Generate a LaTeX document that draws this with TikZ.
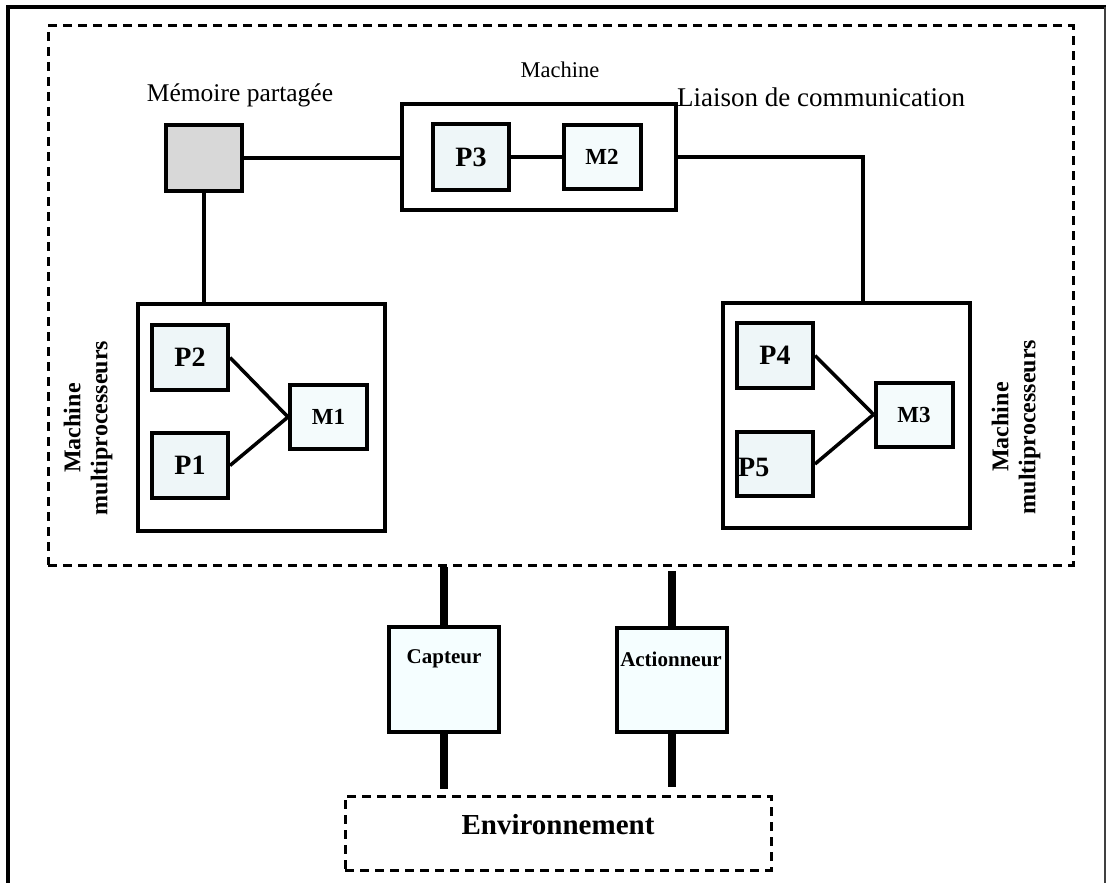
\documentclass[tikz,border=0pt]{standalone}
\usepackage{fontspec}
\setmainfont{Liberation Serif}
\definecolor{procfill}{HTML}{EEF6F8}
\definecolor{memfill}{HTML}{F4FBFC}
\definecolor{iofill}{HTML}{F5FEFF}
\definecolor{sharedfill}{HTML}{D8D8D8}
\tikzset{
  box/.style={draw, line width=4pt, inner sep=0pt},
  proc/.style={box, fill=procfill, minimum width=76pt, minimum height=66pt,
    font=\fontsize{28}{30}\selectfont\bfseries},
  proctext/.style={inner sep=0pt, font=\fontsize{28}{30}\selectfont\bfseries},
  mem/.style={box, fill=memfill, minimum width=77pt, minimum height=64pt,
    font=\fontsize{23}{25}\selectfont\bfseries},
  group/.style={box, fill=white},
  iobox/.style={box, fill=iofill, minimum width=110pt, minimum height=105pt},
  iotext/.style={inner sep=0pt, font=\fontsize{21}{23}\selectfont\bfseries},
  lbl/.style={inner sep=0pt, font=\fontsize{24}{26}\selectfont},
  vlbl/.style={inner sep=0pt, align=center, rotate=90,
    font=\fontsize{24}{27}\selectfont\bfseries},
  link/.style={line width=3.5pt},
  heavy/.style={line width=8.5pt},
  dashbox/.style={draw, dash pattern=on 9pt off 6pt, line width=3pt, inner sep=0pt}
}
\begin{document}
\begin{tikzpicture}[x=1pt, y=-1pt]
\useasboundingbox (0,0) rectangle (1106,883);

% page frame
\draw[line width=4pt] (8,883) -- (8,7) -- (1106,7);
\draw[line width=1.2pt, black!75] (1105,7) -- (1105,883);

% computing system boundary
\node[dashbox, minimum width=1025pt, minimum height=539pt] (sys) at (560.5,295.5) {};

% shared memory and single machine
\node[box, fill=sharedfill, minimum width=76pt, minimum height=66pt] (shm) at (204,158) {};
\node[lbl, font=\fontsize{25.5}{27}\selectfont] (shmlbl) at (240,95) {Mémoire partagée};
\node[group, minimum width=274pt, minimum height=106pt] (mach) at (539,157) {};
\node[lbl, font=\fontsize{22.5}{25}\selectfont] (machlbl) at (560,70) {Machine};
\node[lbl, anchor=west, font=\fontsize{27}{29}\selectfont] (linklbl) at (677,97) {Liaison de communication};
\node[proc] (p3) at (471,157) {P3};
\node[mem] (m2) at (602,157) {M2};

% left multiprocessor machine
\node[group, minimum width=247pt, minimum height=227pt] (lm) at (261.5,417.5) {};
\node[proc, minimum height=65pt] (p2) at (190,357.5) {P2};
\node[proc, minimum height=65pt] (p1) at (190,465.5) {P1};
\node[mem] (m1) at (328.5,417) {M1};
\node[vlbl] (lmlbl) at (88,428) {Machine\\multiprocesseurs};

% right multiprocessor machine
\node[group, minimum width=247pt, minimum height=225pt] (rm) at (846.5,415.5) {};
\node[proc, minimum height=65pt] (p4) at (775,355.5) {P4};
\node[proc, minimum height=64pt] (p5) at (775,464) {};
\node[proctext, anchor=west] (p5lbl) at (738,467) {P5};
\node[mem] (m3) at (914,414.5) {M3};
\node[vlbl] (rmlbl) at (1016,427) {Machine\\multiprocesseurs};
\coordinate (rmtop) at (863,303);

% links
\draw[link] (shm.east) -- (shm.east -| mach.west);
\draw[link] (shm.south) -- (shm.south |- lm.north);
\draw[link] (p3) -- (m2);
\draw[link] (mach.east) -| (rmtop);
\draw[link] (p2.east) -- (m1.west);
\draw[link] (p1.east) -- (m1.west);
\draw[link] (p4.east) -- (m3.west);
\draw[link] (p5.east) -- (m3.west);

% sensor, actuator and environment
\node[iobox] (cap) at (444,679.5) {};
\node[iotext] (caplbl) at (444,659) {Capteur};
\node[iobox, minimum height=104pt] (act) at (672,680) {};
\node[iotext] (actlbl) at (671,659) {Actionneur};
\node[dashbox, minimum width=426pt, minimum height=74pt] (env) at (558,833) {};
\node[inner sep=0pt, font=\fontsize{29}{31}\selectfont\bfseries] (envlbl) at (558,825) {Environnement};

\draw[heavy] (cap.north) -- (cap.north |- sys.south);
\draw[heavy] (cap.south) -- ([yshift=6pt]env.north -| cap.south);
\draw[heavy] (act.north) -- ([yshift=-4pt]act.north |- sys.south);
\draw[heavy] (act.south) -- ([yshift=8pt]env.north -| act.south);
\end{tikzpicture}
\end{document}
